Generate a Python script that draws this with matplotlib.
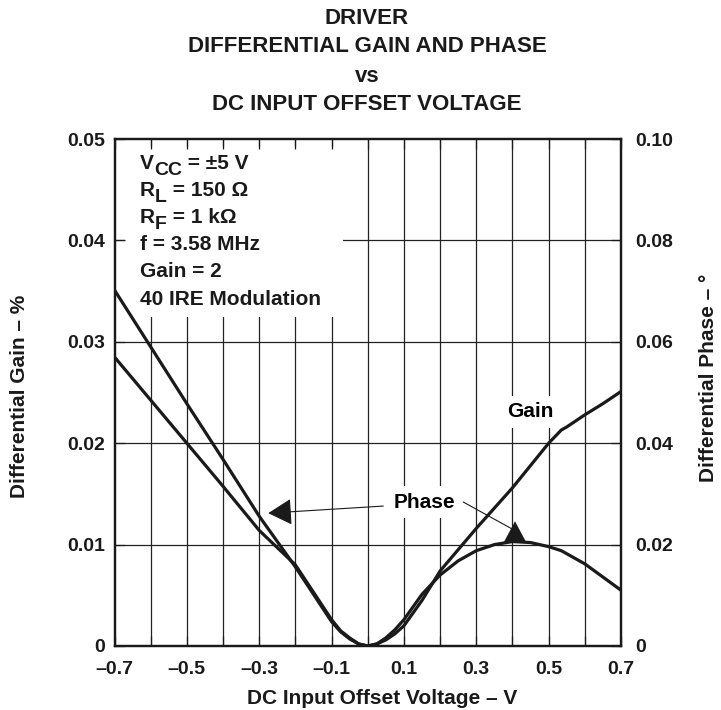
import matplotlib
matplotlib.use("Agg")
import matplotlib.pyplot as plt
import matplotlib.transforms as mtransforms
from matplotlib.patches import Rectangle

plt.rcParams['font.family'] = ['Liberation Sans', 'DejaVu Sans']
plt.rcParams['font.weight'] = 'bold'

# data
voltage = [-0.7, -0.6, -0.5, -0.4, -0.3, -0.25, -0.2, -0.15, -0.1, -0.075, -0.05, -0.025,
           0.0, 0.025, 0.05, 0.075, 0.1, 0.15, 0.2, 0.25, 0.3, 0.35, 0.4, 0.45,
           0.5, 0.535, 0.55, 0.6, 0.65, 0.7]
gain_pct = [0.0351, 0.0295, 0.0239, 0.0184, 0.0128, 0.0103, 0.0078, 0.0051, 0.0024, 0.0014, 0.0007, 0.0002,
            0.0, 0.0002, 0.0006, 0.0012, 0.0020, 0.0045, 0.0074, 0.0095, 0.0116, 0.0136, 0.0156, 0.0178,
            0.0200, 0.0213, 0.0216, 0.0228, 0.0239, 0.0251]
phase_deg = [0.0570, 0.0485, 0.0400, 0.0315, 0.0228, 0.0194, 0.0160, 0.0106, 0.0052, 0.0030, 0.0016, 0.0004,
             0.0, 0.0004, 0.0016, 0.0032, 0.0052, 0.0102, 0.0140, 0.0168, 0.0188, 0.0200, 0.0206, 0.0204,
             0.0196, 0.0188, 0.0182, 0.0162, 0.0136, 0.0110]

x_ticks = [-0.7, -0.6, -0.5, -0.4, -0.3, -0.2, -0.1, 0.0, 0.1, 0.2, 0.3, 0.4, 0.5, 0.6, 0.7]
x_labels = ['–0.7', '', '–0.5', '', '–0.3', '', '–0.1', '', '0.1', '', '0.3', '', '0.5', '', '0.7']
gain_ticks = [0, 0.01, 0.02, 0.03, 0.04, 0.05]
gain_labels = ['0', '0.01', '0.02', '0.03', '0.04', '0.05']
phase_ticks = [0, 0.02, 0.04, 0.06, 0.08, 0.10]
phase_labels = ['0', '0.02', '0.04', '0.06', '0.08', '0.10']

W, H = 721, 710


def fx(px):
    return px / W


def fy(py):
    return 1 - py / H


fig = plt.figure(figsize=(7.21, 7.10), dpi=100)
ax = fig.add_axes([fx(114.5), 64 / H, 506.5 / W, 507 / H])
ax.set_xlim(-0.7, 0.7)
ax.set_ylim(0, 0.05)
ax.set_axisbelow(False)

# grid drawn by hand so the text boxes can sit on top of it
ax.vlines(x_ticks[1:-1], 0, 0.05, color='#222222', lw=0.9, zorder=1)
ax.hlines(gain_ticks[1:-1], -0.7, 0.7, color='#222222', lw=0.9, zorder=1)

# white area behind the conditions text
ax.add_patch(Rectangle((0.0207, 0.649), 0.430, 0.335, transform=ax.transAxes,
                       facecolor='white', edgecolor='none', zorder=2))

ax.plot(voltage, gain_pct, color='#1a1a1a', lw=2.3, zorder=3)

ax.set_xticks(x_ticks)
ax.set_xticklabels(x_labels)
ax.set_yticks(gain_ticks)
ax.set_yticklabels(gain_labels)
ax.tick_params(direction='in', length=7, width=0.9, top=True, labelsize=14, colors='#1a1a1a')
ax.tick_params(axis='x', pad=10.5)
ax.tick_params(axis='y', pad=7)
for s in ax.spines.values():
    s.set_linewidth(1.6)
    s.set_color('#1a1a1a')

ax2 = ax.twinx()
ax2.set_ylim(0, 0.10)
ax2.plot(voltage, phase_deg, color='#1a1a1a', lw=2.3, zorder=3)
ax2.set_yticks(phase_ticks)
ax2.set_yticklabels(phase_labels)
ax2.tick_params(direction='in', length=7, width=0.9, labelsize=14, pad=10, colors='#1a1a1a')
for s in ax2.spines.values():
    s.set_linewidth(1.6)
    s.set_color('#1a1a1a')

# labels on the curves
box = dict(boxstyle='square,pad=0.3', facecolor='white', edgecolor='none')
ax.text(0.158, 0.0142, 'Phase', fontsize=15, ha='center', va='center', bbox=box, zorder=2.6)
ax.text(0.448, 0.0231, 'Gain', fontsize=15, ha='center', va='center', bbox=box, zorder=2.6)
ax.annotate('', xy=(-0.275, 0.0131), xytext=(0.043, 0.0138),
            arrowprops=dict(arrowstyle='-|>,head_length=0.75,head_width=0.42', color='#1a1a1a',
                            lw=0.8, shrinkA=0, shrinkB=0, mutation_scale=20), zorder=4)
ax.annotate('', xy=(0.401, 0.0115), xytext=(0.264, 0.0142),
            arrowprops=dict(arrowstyle='-', color='#1a1a1a', lw=0.8, shrinkA=0, shrinkB=0), zorder=4)
ax.annotate('', xy=(0.407, 0.0123), xytext=(0.407, 0.0107),
            arrowprops=dict(arrowstyle='-|>,head_length=0.75,head_width=0.4', color='#1a1a1a',
                            lw=0.1, shrinkA=0, shrinkB=0, mutation_scale=20), zorder=4)

# test conditions, built piece by piece so the subscripts sit low
renderer = fig.canvas.get_renderer()


def line_text(px, py, parts):
    dx = 0
    for s, dy, size in parts:
        tr = mtransforms.offset_copy(fig.transFigure, fig=fig, x=dx, y=dy, units='dots')
        t = fig.text(fx(px), fy(py), s, transform=tr, fontsize=size, va='baseline',
                     color='#1a1a1a', zorder=5)
        dx += t.get_window_extent(renderer).width


line_text(140, 169, [('V', 0, 15), ('CC', -6, 14), (' = ±5 V', 0, 15)])
line_text(140, 196, [('R', 0, 15), ('L', -6, 14), (' = 150 Ω', 0, 15)])
line_text(140, 223, [('R', 0, 15), ('F', -6, 14), (' = 1 kΩ', 0, 15)])
line_text(140, 250, [('f = 3.58 MHz', 0, 15)])
line_text(140, 277, [('Gain = 2', 0, 15)])
line_text(140, 305, [('40 IRE Modulation', 0, 15)])

# titles and axis labels
title_lines = ['DRIVER', 'DIFFERENTIAL GAIN AND PHASE', 'vs', 'DC INPUT OFFSET VOLTAGE']
for txt, py in zip(title_lines, [19, 47, 76, 105]):
    fig.text(fx(367), fy(py), txt, fontsize=16, ha='center', va='center', color='#1a1a1a')

fig.text(fx(382), fy(698), 'DC Input Offset Voltage – V', fontsize=15, ha='center', va='center',
         color='#1a1a1a')
fig.text(fx(20), fy(396), 'Differential Gain – %', fontsize=15, rotation=90, ha='center',
         va='center', color='#1a1a1a')
fig.text(fx(709), fy(378), 'Differential Phase – °', fontsize=15, rotation=90, ha='center',
         va='center', color='#1a1a1a')

fig.savefig('out.png', dpi=100)
